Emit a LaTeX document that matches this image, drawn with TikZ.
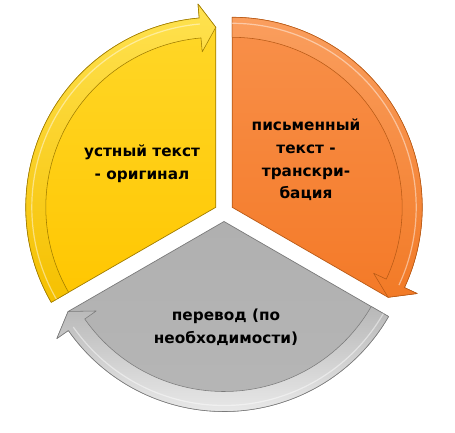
\documentclass[tikz,border=0pt]{standalone}
\usepackage{fontspec}
\setmainfont{DejaVu Sans}
\usetikzlibrary{calc}
\definecolor{yelTop}{HTML}{FFD82A}
\definecolor{yelBot}{HTML}{FFC600}
\definecolor{yelLine}{HTML}{A07C00}
\definecolor{yelRimA}{HTML}{FFE250}
\definecolor{yelRimB}{HTML}{F5C000}
\definecolor{orTop}{HTML}{F8904A}
\definecolor{orBot}{HTML}{F47A28}
\definecolor{orLine}{HTML}{B85A16}
\definecolor{orRimA}{HTML}{FA9E5E}
\definecolor{orRimB}{HTML}{F27A26}
\definecolor{grTop}{HTML}{B0B0B0}
\definecolor{grBot}{HTML}{B6B6B6}
\definecolor{grLine}{HTML}{7A7A7A}
\definecolor{grRimA}{HTML}{B8B8B8}
\definecolor{grRimB}{HTML}{E8E8E8}
\tikzset{
  lbl/.style={align=center, inner sep=0pt, text=black,
    font=\fontsize{15.3}{22.7}\selectfont\bfseries},
}
\newcommand{\cycseg}[9]{%
  \pgfmathsetmacro{\bA}{#4+5}%
  \path[draw=#7, line width=0.7pt, top color=#5, bottom color=#6, line join=round]
    (#2) -- ($(#2)+(#3:190)$) arc[start angle=#3, end angle=\bA, radius=190pt]
    -- ($(#2)+(\bA:204)$) -- ($(#2)+(#4:180)$) -- cycle;
  \path[draw=#7, line width=0.55pt, top color=#8, bottom color=#9, line join=round]
    ($(#2)+(#3:170)$) -- ($(#2)+(#3:190)$) arc[start angle=#3, end angle=\bA, radius=190pt]
    -- ($(#2)+(\bA:204)$) -- ($(#2)+(#4:180)$) -- ($(#2)+(\bA:156)$)
    -- ($(#2)+(\bA:170)$) arc[start angle=\bA, end angle=#3, radius=170pt] -- cycle;
  \draw[white, opacity=0.45, line width=1.2pt]
    ($(#2)+(#3:184)$) arc[start angle=#3, end angle=\bA, radius=184pt];
}
\begin{document}
\begin{tikzpicture}[x=1pt,y=1pt]
\useasboundingbox (0,0) rectangle (455,-433);
\coordinate (cy) at (215.8,-207.3);
\coordinate (co) at (232.2,-207.3);
\coordinate (cg) at (224,-221.5);
\cycseg{yellow}{cy}{210}{90}{yelTop}{yelBot}{yelLine}{yelRimA}{yelRimB}
\cycseg{orange}{co}{90}{-30}{orTop}{orBot}{orLine}{orRimA}{orRimB}
\cycseg{gray}{cg}{-30}{-150}{grTop}{grBot}{grLine}{grRimA}{grRimB}
\node[lbl] (t1) at (142,-164) {устный текст\\- оригинал};
\node[lbl] (t2) at (306,-160) {письменный\\текст -\\транскри-\\бация};
\node[lbl] (t3) at (226,-327) {перевод (по\\необходимости)};
\end{tikzpicture}
\end{document}
